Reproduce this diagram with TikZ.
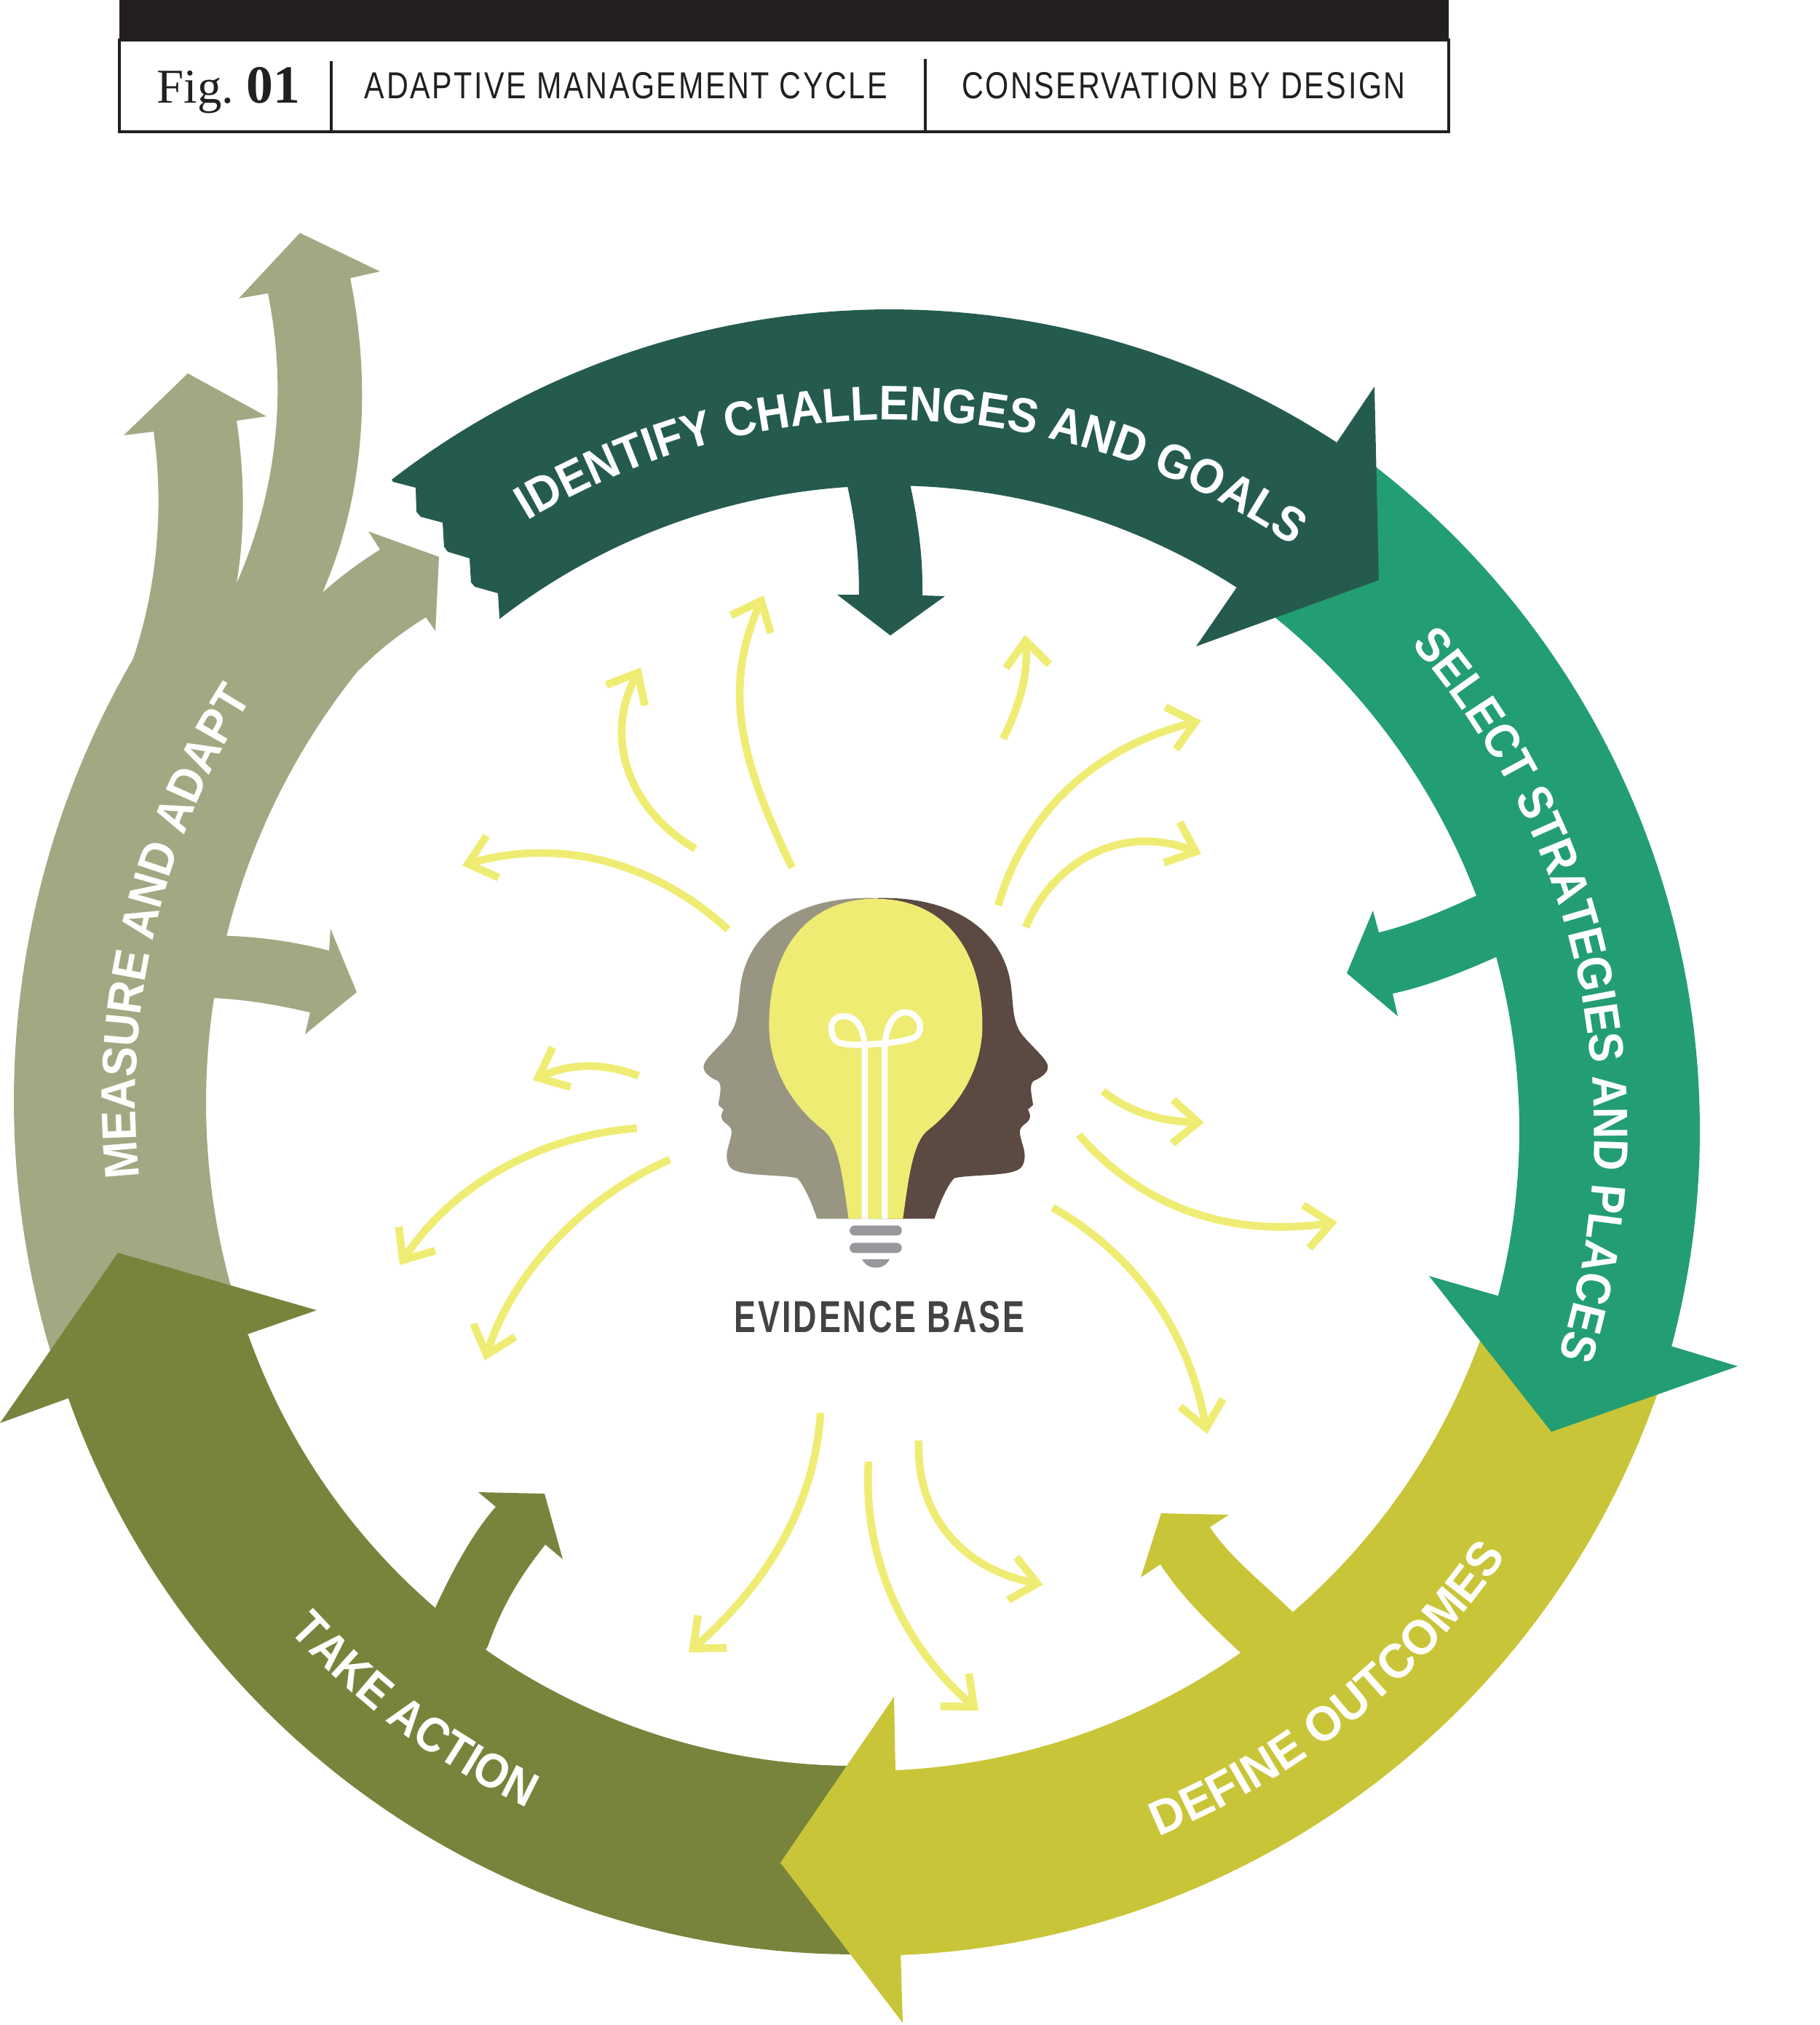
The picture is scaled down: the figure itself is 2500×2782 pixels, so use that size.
\documentclass[tikz,border=0pt]{standalone}
\usepackage{fontspec}
\usetikzlibrary{arrows.meta,decorations.text}
\setmainfont{Liberation Sans}
\newfontfamily\headfont[FakeStretch=0.8,LetterSpace=5]{Liberation Sans}
\newfontfamily\bandfont[FakeStretch=0.9]{Liberation Sans Bold}
\newfontfamily\midbandfont[FakeStretch=0.925]{Liberation Sans Bold}
\newfontfamily\widebandfont[FakeStretch=0.96]{Liberation Sans Bold}
\newfontfamily\basefont[FakeStretch=0.73,LetterSpace=4.7]{Liberation Sans}
\newfontfamily\figfont{Liberation Serif}
\definecolor{headblack}{HTML}{231F20}
\definecolor{identifycol}{HTML}{255B4F}
\definecolor{selectcol}{HTML}{239E72}
\definecolor{definecol}{HTML}{C9C538}
\definecolor{actioncol}{HTML}{78843C}
\definecolor{measurecol}{HTML}{A3A883}
\definecolor{rayyellow}{HTML}{EFEC73}
\definecolor{headgrey}{HTML}{989583}
\definecolor{headbrown}{HTML}{5A4A42}
\definecolor{basegrey}{HTML}{97989B}
\definecolor{basetext}{HTML}{434345}
\newcommand{\ringarc}[5]{plot[domain=#4:#5,samples=90,variable=\t] ({#1+#3*cos(\t)},{#2+#3*sin(\t)})}
\newcommand{\ringto}[5]{-- plot[domain=#4:#5,samples=90,variable=\t] ({#1+#3*cos(\t)},{#2+#3*sin(\t)})}
\newcommand{\headpath}{(790,78) .. controls (480,70) and (290,190) .. (270,370) .. controls (262,430) and (265,470) .. (230,510) .. controls (190,550) and (130,590) .. (130,612) .. controls (130,635) and (165,650) .. (185,657) .. controls (205,670) and (190,710) .. (187,733) -- (207,748) .. controls (195,765) and (195,775) .. (210,788) .. controls (225,798) and (240,805) .. (238,820) .. controls (235,850) and (215,875) .. (220,905) .. controls (225,935) and (245,940) .. (270,946) .. controls (330,958) and (440,955) .. (490,965) .. controls (515,985) and (545,1040) .. (567,1094) -- (790,1094) -- cycle}

\begin{document}
\begin{tikzpicture}[
    x=0.1mm,y=-0.1mm,
    ray/.style={draw=rayyellow,line width=3pt,-{Straight Barb[length=10pt,width=17pt]}},
    headtext/.style={anchor=base,inner sep=0pt,font=\headfont\fontsize{14.7pt}{16pt}\selectfont,text=headblack},
    rule/.style={draw=headblack,line width=1pt},
    bandtext/.style={decoration={text along path,text align=center},decorate}
]
\useasboundingbox (0,0) rectangle (2500,2782);

\fill[headblack] (164,0) rectangle (1990,55);
\draw[rule] (164,55) rectangle (1990,181);
\draw[rule] (455,84) -- (455,181);
\draw[rule] (1271,81) -- (1271,181);
\node[headtext,anchor=base west,font=\figfont\fontsize{19pt}{20pt}\selectfont] (figlabel) at (215,141) {Fig.};
\node[headtext,anchor=base west,font=\figfont\bfseries\fontsize{21pt}{22pt}\selectfont] (fignum) at (338,141) {01};
\node[headtext] (title) at (860,135) {ADAPTIVE MANAGEMENT CYCLE};
\node[headtext] (series) at (1626,135) {CONSERVATION BY DESIGN};

\fill[measurecol] \ringarc{1225}{1512}{1206}{162}{210.2}
  .. controls (215,810) and (226,700) .. (211,593) -- (170,598) -- (258,513) -- (366,572) -- (325,578)
  .. controls (336,650) and (337,730) .. (325,801)
  .. controls (370,700) and (400,560) .. (368,403) -- (328,410) -- (412,320) -- (522,373) -- (481,382)
  .. controls (505,500) and (510,660) .. (443,814)
  .. controls (470,790) and (495,772) .. (522,755) -- (506,730) -- (603,765) -- (598,867) -- (585,848)
  .. controls (550,870) and (520,893) .. (494,920)
  \ringto{1231}{1515}{948}{218.9}{194}
  .. controls (360,1287) and (410,1295) .. (452,1306) -- (454,1276) -- (490,1363) -- (419,1421) -- (426,1391)
  .. controls (380,1380) and (335,1373) .. (293,1371)
  \ringto{1231}{1515}{948}{188.7}{162} -- cycle;

\fill[actioncol] \ringarc{1175}{1538}{1147}{90}{160.5}
  -- (0,1955) -- (162,1721) -- (435,1800) -- (337,1834)
  \ringto{1175}{1538}{885}{160.5}{130.7}
  .. controls (620,2160) and (650,2105) .. (681,2070) -- (657,2050) -- (748,2052) -- (773,2142) -- (749,2122)
  .. controls (715,2165) and (690,2205) .. (670,2262)
  \ringto{1175}{1538}{888}{124.9}{90} -- cycle;

\fill[definecol] \ringarc{1189}{1535}{1152}{19}{87.6}
  -- (1240,2779) -- (1072,2559) -- (1228,2331) -- (1230,2431)
  \ringto{1189}{1535}{898}{87.4}{55}
  .. controls (1660,2230) and (1620,2190) .. (1594,2149) -- (1567,2167) -- (1595,2079) -- (1688,2081) -- (1662,2098)
  .. controls (1690,2140) and (1730,2170) .. (1775,2214)
  \ringto{1189}{1535}{898}{49.2}{19} -- cycle;

\fill[selectcol] \ringarc{1180}{1552.5}{1155}{307.5}{374.9}
  -- (2387,1877) -- (2131,1967) -- (1963,1753) -- (2057,1780)
  \ringto{1180}{1552.5}{907}{374.5}{344.8}
  .. controls (2010,1335) and (1960,1355) .. (1913,1365) -- (1920,1396) -- (1850,1337) -- (1886,1251) -- (1894,1281)
  .. controls (1940,1270) and (1985,1250) .. (2029,1230)
  \ringto{1180}{1552.5}{907}{339.2}{308} -- cycle;

\fill[identifycol] \ringarc{1223}{1545}{1120}{232.3}{303.2}
  -- (1888,531) -- (1894,797) -- (1643,888) -- (1698,808)
  \ringto{1223}{1545}{878}{302.8}{271.8}
  .. controls (1262,720) and (1268,770) .. (1267,818) -- (1298,819) -- (1223,873) -- (1150,817) -- (1180,817)
  .. controls (1180,770) and (1176,720) .. (1164,668)
  \ringto{1223}{1545}{878}{266.15}{232.3}
  -- (684,815) -- (652,806) -- (647,800) -- (645,767) -- (615,758) -- (610,751) -- (608,718)
  -- (578,710) -- (572,703) -- (571,670) -- (540,662) -- cycle;

\path[bandtext,decoration={text={|\midbandfont\fontsize{19pt}{20pt}\selectfont\color{white}|IDENTIFY CHALLENGES AND GOALS}}] \ringarc{1223}{1545}{968}{221.9}{321.9};
\path[bandtext,decoration={text={|\bandfont\fontsize{19pt}{20pt}\selectfont\color{white}|SELECT STRATEGIES AND PLACES}}] \ringarc{1180}{1552.5}{1010}{298.3}{398.3};
\path[bandtext,decoration={text={|\widebandfont\fontsize{19pt}{20pt}\selectfont\color{white}|DEFINE OUTCOMES}}] \ringarc{1189}{1535}{1067}{91.1}{11.1};
\path[bandtext,decoration={text={|\bandfont\fontsize{19pt}{20pt}\selectfont\color{white}|TAKE ACTION}}] \ringarc{1175}{1538}{1048}{166.7}{86.7};
\path[bandtext,decoration={text={|\midbandfont\fontsize{19pt}{20pt}\selectfont\color{white}|MEASURE AND ADAPT}}] \ringarc{1228}{1514}{1042}{153.25}{233.25};

\draw[ray] (1000,1277) .. controls (900,1185) and (770,1150) .. (635,1189);
\draw[ray] (955,1166) .. controls (860,1110) and (830,1010) .. (880,917);
\draw[ray] (1088,1192) .. controls (1020,1050) and (990,950) .. (1049,818);
\draw[ray] (1378,1015) .. controls (1405,960) and (1412,920) .. (1408,872);
\draw[ray] (1371,1244) .. controls (1410,1110) and (1510,1025) .. (1650,990);
\draw[ray] (1409,1274) .. controls (1445,1185) and (1540,1130) .. (1650,1173);
\draw[ray] (1515,1499) .. controls (1560,1535) and (1610,1541) .. (1654,1542);
\draw[ray] (1482,1559) .. controls (1570,1660) and (1690,1700) .. (1837,1679);
\draw[ray] (1446,1659) .. controls (1570,1730) and (1635,1840) .. (1658,1970);
\draw[ray] (1262,1979) .. controls (1258,2080) and (1320,2155) .. (1433,2177);
\draw[ray] (1193,2008) .. controls (1185,2140) and (1240,2260) .. (1344,2350);
\draw[ray] (1127,1941) .. controls (1120,2060) and (1060,2170) .. (946,2270);
\draw[ray] (920,1593) .. controls (790,1650) and (700,1760) .. (666,1869);
\draw[ray] (875,1550) .. controls (740,1560) and (620,1630) .. (549,1738);
\draw[ray] (877,1478) .. controls (830,1460) and (785,1460) .. (732,1484);

\begin{scope}[shift={(920,1200)},xscale=0.357,yscale=0.4337]
\fill[headgrey] \headpath;
\begin{scope}[shift={(1585,0)},xscale=-1]
\fill[headbrown] \headpath;
\end{scope}
\fill[rayyellow] (792,80) .. controls (530,80) and (382,240) .. (382,480) .. controls (382,640) and (500,755) .. (590,812) .. controls (650,850) and (665,960) .. (688,1094)
  -- (897,1094) .. controls (920,960) and (935,850) .. (995,812) .. controls (1085,755) and (1203,640) .. (1203,480) .. controls (1203,240) and (1055,80) .. (792,80) -- cycle;
\draw[white,line width=2.4pt] (750,1094) -- (750,560) .. controls (750,500) and (725,452) .. (670,452) .. controls (630,452) and (622,475) .. (622,490) .. controls (622,520) and (640,535) .. (660,538) .. controls (700,545) and (760,543) .. (790,540) .. controls (860,537) and (930,528) .. (950,515) .. controls (965,500) and (965,485) .. (960,470) .. controls (945,445) and (920,438) .. (905,440) .. controls (860,440) and (827,490) .. (827,560) -- (827,1094);
\fill[basegrey,rounded corners=2pt] (692,1115) rectangle (893,1147);
\fill[basegrey,rounded corners=2pt] (692,1170) rectangle (893,1202);
\fill[basegrey] (740,1222) -- (846,1222) .. controls (825,1258) and (761,1258) .. (740,1222) -- cycle;
\end{scope}
\node[anchor=base,inner sep=0pt,font=\basefont\bfseries\fontsize{17.5pt}{19pt}\selectfont,text=basetext] (evidence) at (1208,1830) {EVIDENCE BASE};
\end{tikzpicture}
\end{document}
